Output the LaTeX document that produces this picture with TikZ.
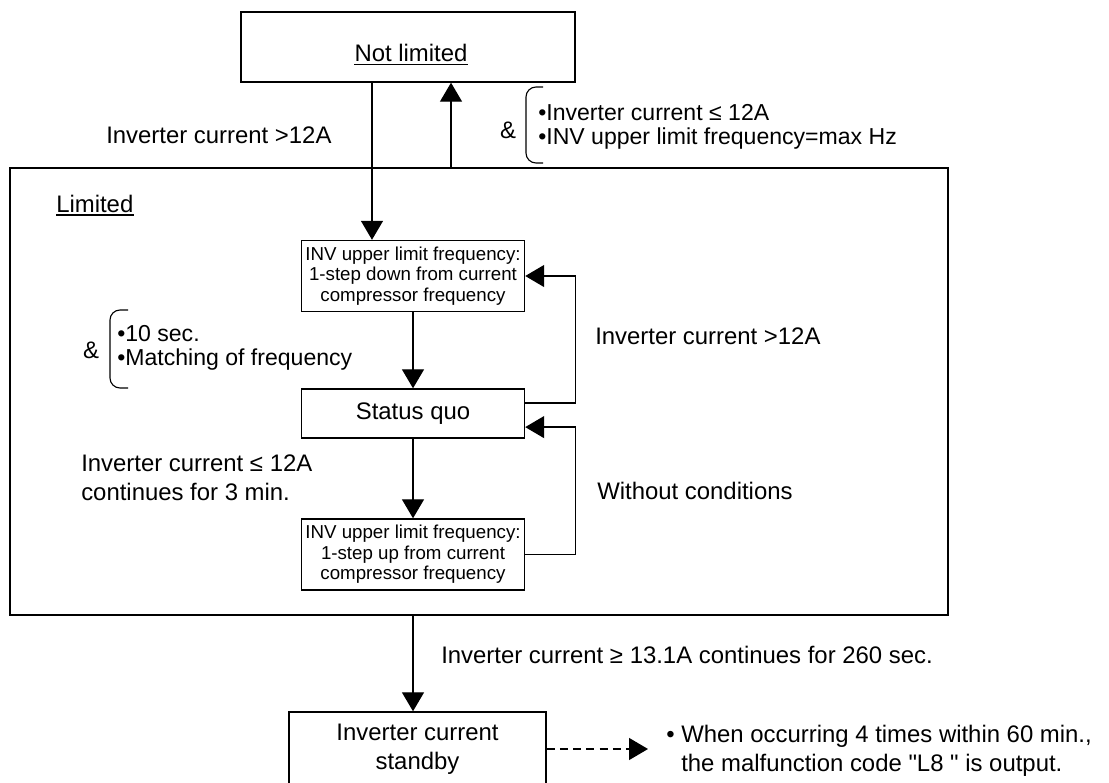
\documentclass[tikz,border=0pt]{standalone}
\usepackage{fontspec}
\setmainfont{Liberation Sans}[Ligatures=TeXOff]
\usetikzlibrary{arrows.meta, calc}

\newcommand{\bigtxt}{\fontsize{17}{20.6}\selectfont}
\newcommand{\listtxt}{\fontsize{16.4}{16.9}\selectfont}
\newcommand{\boxtxt}{\fontsize{13.3}{14.6}\selectfont}

\tikzset{
    statebox/.style={draw, line width=1pt, minimum width=5.575cm, align=center, inner sep=0pt},
    arr/.style={line width=1pt, -{Triangle[length=0.475cm, width=0.55cm]}},
    lbl/.style={anchor=base west, inner sep=0pt, font=\bigtxt},
    condlist/.style={anchor=west, inner sep=0pt, font=\listtxt, align=left},
    condbrace/.style={line width=0.8pt, rounded corners=0.25cm},
    undl/.style={line width=1.4pt}
}

\begin{document}
\begin{tikzpicture}[x=0.025cm, y=-0.025cm]
    \useasboundingbox (0,0) rectangle (1109,782);
    \clip (0,0) rectangle (1109,782);

    \node [statebox, minimum width=8.35cm, minimum height=1.75cm] (notlim) at (408,47) {};
    \node [anchor=base, inner xsep=0pt, inner ysep=0.05cm, font=\bigtxt] (nltxt) at (411,62) {Not limited};
    \draw [undl] (nltxt.south west) -- (nltxt.south east);

    \node [draw, line width=1pt, minimum width=23.45cm, minimum height=11.175cm] (limited) at (479,391.5) {};
    \node [lbl, inner ysep=0.05cm] (limtxt) at (56,212) {Limited};
    \draw [undl] (limtxt.south west) -- (limtxt.south east);

    \node [statebox, minimum height=1.775cm, font=\boxtxt] (down1) at (413,276) {INV upper limit frequency:\\1-step down from current\\compressor frequency};
    \node [statebox, minimum height=1.225cm, font=\bigtxt] (quo) at (413,413.5) {Status quo};
    \node [statebox, minimum height=1.775cm, font=\boxtxt] (up1) at (413,554.5) {INV upper limit frequency:\\1-step up from current\\compressor frequency};
    \node [statebox, minimum width=6.425cm, minimum height=1.85cm, font=\bigtxt] (standby) at (417.5,749) {Inverter current\\standby};
    \coordinate (noteend) at (648,749);

    \draw [arr] ([xshift=-0.9cm]notlim.south) -- ([xshift=-0.9cm]notlim.south |- down1.north);
    \draw [arr] ([xshift=1.075cm]notlim.south |- limited.north) -- ([xshift=1.075cm]notlim.south);
    \draw [arr] (down1) -- (quo);
    \draw [arr] (quo) -- (up1);
    \draw [arr] ([yshift=0.26cm]quo.east) -| ([xshift=1.26cm]down1.east) -- (down1.east);
    \draw [arr] (up1.east) -| ([xshift=1.26cm, yshift=-0.34cm]quo.east) -- ([yshift=-0.34cm]quo.east);
    \draw [arr] (quo.south |- limited.south) -- (quo.south |- standby.north);
    \draw [arr, dash pattern=on 0.2cm off 0.13cm] (standby.east) -- (noteend);

    \node [lbl] (tolimit) at (106,143) {Inverter current >12A};
    \node [anchor=base, inner sep=0pt, font=\bigtxt] (amp1) at (508,138) {\&};
    \draw [condbrace] (543,87) -- (526,87) -- (526,163) -- (543,163);
    \node [condlist] (release) at (538,127) {•Inverter current ≤ 12A\\•INV upper limit frequency=max Hz};

    \node [anchor=base, inner sep=0pt, font=\bigtxt] (amp2) at (91,358) {\&};
    \draw [condbrace] (128,310) -- (110,310) -- (110,388) -- (128,388);
    \node [condlist] (settle) at (117,348) {•10 sec.\\•Matching of frequency};

    \node [lbl] (again) at (595,344) {Inverter current >12A};
    \node [anchor=west, inner sep=0pt, font=\bigtxt, align=left] (stepup) at (81,478) {Inverter current ≤ 12A\\continues for 3 min.};
    \node [lbl] (nocond) at (597,499) {Without conditions};
    \node [lbl] (tostandby) at (441,663) {Inverter current ≥ 13.1A continues for 260 sec.};
    \node [anchor=west, inner sep=0pt, font=\bigtxt, align=left] (note) at (666,750.5) {• When occurring 4 times within 60 min.,\\\hphantom{•} the malfunction code "L8 " is output.};
\end{tikzpicture}
\end{document}
